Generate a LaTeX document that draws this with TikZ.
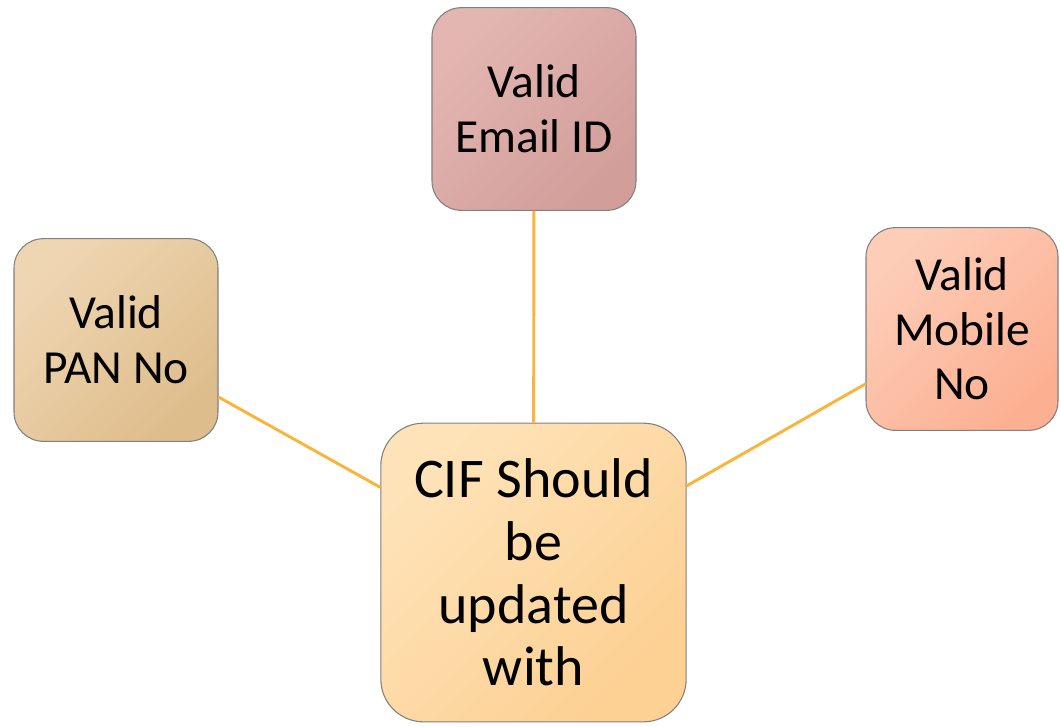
\documentclass[tikz,border=0pt]{standalone}
\usepackage{fontspec}
\setmainfont{Carlito}
\usepackage{xcolor}
\usepackage{tikz}

\definecolor{emailA}{HTML}{E3B6B2}
\definecolor{emailB}{HTML}{D29E9A}
\definecolor{panA}{HTML}{EFD6B2}
\definecolor{panB}{HTML}{DEBD8C}
\definecolor{mobA}{HTML}{FDCDB8}
\definecolor{mobB}{HTML}{FCB092}
\definecolor{cifA}{HTML}{FEE3B8}
\definecolor{cifB}{HTML}{FDD093}
\definecolor{spoke}{HTML}{FBB43A}

\begin{document}
\begin{tikzpicture}[
  x=0.75pt, y=-0.75pt,
  box/.style={draw=black!50, line width=0.8pt, rounded corners=22pt, align=center,
    inner sep=0pt, minimum width=153pt, minimum height=152pt,
    font=\fontsize{35.6}{41}\selectfont},
  hub/.style={box, rounded corners=32pt, minimum width=229pt, minimum height=224pt,
    font=\fontsize{42}{47}\selectfont},
  spokeline/.style={draw=spoke, line width=2.2pt}
]
\useasboundingbox (0,0) rectangle (1060,726);

\node[hub, top color=cifA, bottom color=cifB, shading angle=45] (cif) at (533.5,572.5) {CIF Should\\be\\updated\\with};
\node[box, top color=emailA, bottom color=emailB, shading angle=45] (email) at (534,109) {Valid\\Email ID};
\node[box, top color=panA, bottom color=panB, shading angle=45] (pan) at (116,340) {Valid\\PAN No};
\node[box, top color=mobA, bottom color=mobB, shading angle=45, minimum width=144pt] (mobile) at (962,329) {Valid\\Mobile\\No};

\draw[spokeline] (email) -- (cif);
\draw[spokeline] (pan) -- (cif);
\draw[spokeline] (mobile) -- (cif);
\end{tikzpicture}
\end{document}
